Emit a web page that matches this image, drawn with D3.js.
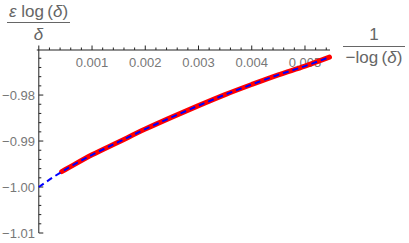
<!DOCTYPE html>
<html>
<head>
<meta charset="utf-8">
<script src="https://d3js.org/d3.v7.min.js"></script>
<style>
  body{ margin:0; background:#fff; }
  svg{ display:block; }
  text{ font-family:"Liberation Sans", Arial, sans-serif; }
</style>
</head>
<body>
<div id="chart"></div>
<script>
  // values
  var exactX = [0.00043, 0.0005, 0.001, 0.0015, 0.002, 0.0025, 0.003, 0.0035, 0.004, 0.0045, 0.005, 0.00546]
  var exactY = [-0.99665, -0.9962, -0.9930, -0.9902, -0.9874, -0.9848, -0.9823, -0.9799, -0.9777, -0.9756, -0.9737, -0.97176]
  var approxX = [0, 0.0002, 0.0005, 0.001, 0.0015, 0.002, 0.0025, 0.003, 0.0035, 0.004, 0.0045, 0.005, 0.00546]
  var approxY = [-1.0000, -0.9984, -0.9962, -0.9930, -0.9902, -0.9874, -0.9848, -0.9823, -0.9799, -0.9777, -0.9756, -0.9737, -0.97176]
  var xTicks = [0.001, 0.002, 0.003, 0.004, 0.005]
  var yTicks = [-0.98, -0.99, -1.00, -1.01]

  var width = 409, height = 243

  var svg = d3.select("#chart").append("svg")
      .attr("width", width)
      .attr("height", height)

  var x = d3.scaleLinear().domain([0, 0.00547]).range([38.8, 330])
  var y = d3.scaleLinear().domain([-1.01, -0.9702]).range([233, 50])

  var axisCol = "#222", labCol = "#777"

  // minor ticks every 0.0002 on x, 0.002 on y
  var xMinor = d3.range(0, 55).map(function(i){ return i*0.0001 }).filter(function(v, i){ return i%2==0 && i%10!=0 })
  var yMinor = d3.range(0, 21).map(function(i){ return -0.97 - i*0.002 }).filter(function(v, i){ return i%5!=0 && v>-1.01 })

  // x axis (at top)
  svg.append("line").attr("x1", x(0)-2).attr("x2", x(0.00547)).attr("y1", 50).attr("y2", 50)
      .attr("stroke", axisCol).attr("stroke-width", 1)
  svg.selectAll(".xt").data(xTicks.concat([0])).enter().append("line")
      .attr("x1", function(d){ return x(d) }).attr("x2", function(d){ return x(d) })
      .attr("y1", 50).attr("y2", 45.5)
      .attr("stroke", axisCol)
  svg.selectAll(".xm").data(xMinor).enter().append("line")
      .attr("x1", function(d){ return x(d) }).attr("x2", function(d){ return x(d) })
      .attr("y1", 50).attr("y2", 47.5)
      .attr("stroke", axisCol)
  svg.selectAll(".xl").data(xTicks).enter().append("text")
      .attr("x", function(d){ return x(d) }).attr("y", 67)
      .attr("text-anchor", "middle").attr("font-size", 13).attr("fill", labCol)
      .text(function(d){ return d3.format(".3f")(d) })

  // y axis
  svg.append("line").attr("x1", x(0)).attr("x2", x(0)).attr("y1", 50).attr("y2", y(-1.01))
      .attr("stroke", axisCol).attr("stroke-width", 1)
  svg.selectAll(".yt").data(yTicks).enter().append("line")
      .attr("x1", x(0)).attr("x2", x(0)+4.5)
      .attr("y1", function(d){ return y(d) }).attr("y2", function(d){ return y(d) })
      .attr("stroke", axisCol)
  svg.selectAll(".ym").data(yMinor).enter().append("line")
      .attr("x1", x(0)).attr("x2", x(0)+2.5)
      .attr("y1", function(d){ return y(d) }).attr("y2", function(d){ return y(d) })
      .attr("stroke", axisCol)
  svg.selectAll(".yl").data(yTicks).enter().append("text")
      .attr("x", 35).attr("y", function(d){ return y(d)+4.5 })
      .attr("text-anchor", "end").attr("font-size", 13).attr("fill", labCol)
      .text(function(d){ return d3.format(".2f")(d).replace("-", "\u2212") })

  // curves
  var line = d3.line().curve(d3.curveMonotoneX)
  var exactPts = exactX.map(function(v, i){ return [x(v), y(exactY[i])] })
  var approxPts = approxX.map(function(v, i){ return [x(v), y(approxY[i])] })

  svg.append("path").attr("d", line(exactPts))
      .attr("fill", "none").attr("stroke", "#f00").attr("stroke-width", 5)
      .attr("stroke-linecap", "round")
  svg.append("path").attr("d", line(approxPts))
      .attr("fill", "none").attr("stroke", "#0000ff").attr("stroke-width", 2)
      .attr("stroke-dasharray", "6,4")

  // axis labels as fractions
  function frac(cx, yNum, yBar, yDen, x0, x1, num, den){
    var t = svg.append("text").attr("x", cx).attr("y", yNum).attr("text-anchor", "middle")
        .attr("font-size", 17).attr("fill", "#666")
    num.forEach(function(p){ t.append("tspan").attr("font-style", p[1] ? "italic" : "normal").text(p[0]) })
    svg.append("line").attr("x1", x0).attr("x2", x1).attr("y1", yBar).attr("y2", yBar)
        .attr("stroke", "#666").attr("stroke-width", 1)
    var b = svg.append("text").attr("x", cx).attr("y", yDen).attr("text-anchor", "middle")
        .attr("font-size", 17).attr("fill", "#666")
    den.forEach(function(p){ b.append("tspan").attr("font-style", p[1] ? "italic" : "normal").text(p[0]) })
  }
  frac(38.5, 17, 22.5, 40, 7, 70, [["\u03b5", 1], [" log\u2009(", 0], ["\u03b4", 1], [")", 0]], [["\u03b4", 1]])
  frac(374, 40, 46.5, 63, 343, 405, [["1", 0]], [["\u2212log\u2009(", 0], ["\u03b4", 1], [")", 0]])
</script>
</body>
</html>
